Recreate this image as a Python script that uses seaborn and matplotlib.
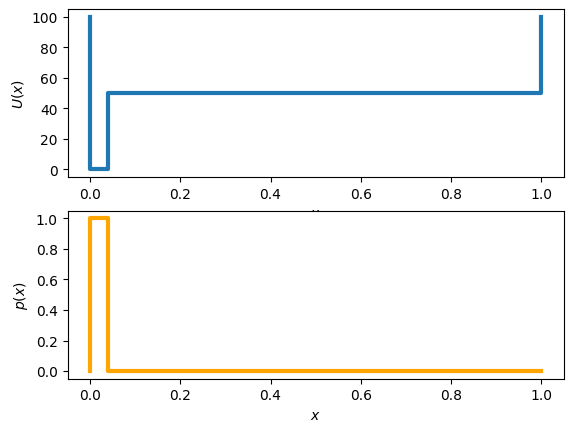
import matplotlib
matplotlib.use("Agg")
import matplotlib.pyplot as plt
import seaborn as sns
import pandas as pd

x_u = [0.0, 0.0, 0.04, 0.04, 1.0, 1.0]
u_vals = [100, 0, 0, 50, 50, 100]
x_p = [0.0, 0.0, 0.04, 0.04, 1.0]
p_vals = [0, 1, 1, 0, 0]

fig, (ax1, ax2) = plt.subplots(2, 1, figsize=(6.4, 4.8), dpi=100)

df_u = pd.DataFrame({"x": x_u, "U": u_vals})
df_p = pd.DataFrame({"x": x_p, "p": p_vals})

sns.lineplot(data=df_u, x="x", y="U", sort=False, estimator=None, ax=ax1,
             color="#1f77b4", linewidth=3)
sns.lineplot(data=df_p, x="x", y="p", sort=False, estimator=None, ax=ax2,
             color="orange", linewidth=3)

ax1.set_xlabel("$x$")
ax1.set_ylabel("$U(x)$")
ax2.set_xlabel("$x$")
ax2.set_ylabel("$p(x)$")

fig.savefig("out.png", dpi=100, bbox_inches="tight")
